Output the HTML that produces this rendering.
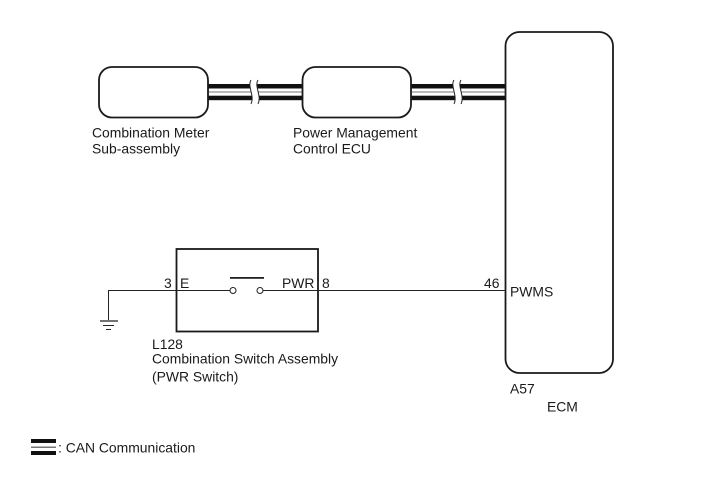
<!DOCTYPE html>
<html><head><meta charset="utf-8"><style>
html,body{margin:0;padding:0;background:#fff}
svg{display:block}
text{font-family:"Liberation Sans",sans-serif;font-size:13.9px;fill:#1a1a1a}
</style></head><body>
<svg width="713" height="481" viewBox="0 0 713 481" xmlns="http://www.w3.org/2000/svg">
<g fill="#111">
<rect x="208" y="84" width="94" height="4.5"/>
<rect x="208" y="95.700" width="94" height="4.500"/>
<rect x="411" y="84" width="95" height="4.500"/>
<rect x="411" y="95.700" width="95" height="4.500"/>
</g>
<g stroke="#777" stroke-width="1" fill="none">
<path d="M208 92H302M411 92H506"/>
</g>
<g fill="#fff" stroke="none">
<path d="M251 80C247 86 255 96 251 104H258C262 96 254 86 258 80Z"/>
<path d="M454 80C450 86 458 96 454 104H461C465 96 457 86 461 80Z"/>
</g>
<g fill="none" stroke="#222" stroke-width="1">
<path d="M251 80C247 86 255 96 251 104M258 80C254 86 262 96 258 104"/>
<path d="M454 80C450 86 458 96 454 104M461 80C457 86 465 96 461 104"/>
</g>
<g fill="none" stroke="#1a1a1a" stroke-width="1.800">
<rect x="99" y="67" width="109" height="50.500" rx="13"/>
<rect x="302.500" y="67" width="108.500" height="50.500" rx="13"/>
<rect x="505.500" y="32" width="107.500" height="341" rx="14"/>
<rect x="176.500" y="249" width="141.500" height="82.500"/>
</g>
<g fill="none" stroke="#222" stroke-width="1">
<path d="M108.500 320V290.500H230M263 290.500H505.500"/>
<circle cx="233" cy="290.500" r="3"/>
<circle cx="260" cy="290.500" r="3"/>
</g>
<rect x="230" y="277" width="34" height="1.800" fill="#222"/>
<g stroke="#222" fill="none">
<path d="M100 321H118" stroke-width="1.300"/>
<path d="M103 325.500H114" stroke-width="1"/>
<path d="M106 329.500H111" stroke-width="1"/>
</g>
<g fill="#111">
<rect x="31" y="439" width="25" height="4"/>
<rect x="31" y="451" width="25" height="4"/>
</g>
<rect x="31" y="446.500" width="25" height="1.500" fill="#777"/>
<text x="92" y="137.500">Combination Meter</text>
<text x="92" y="153.500">Sub-assembly</text>
<text x="293" y="137.500">Power Management</text>
<text x="293" y="153.500">Control ECU</text>
<text x="164" y="288">3</text>
<text x="180" y="288">E</text>
<text x="282" y="288">PWR</text>
<text x="322" y="288">8</text>
<text x="484" y="288">46</text>
<text x="510" y="296.500">PWMS</text>
<text x="152" y="349">L128</text>
<text x="152" y="363.500">Combination Switch Assembly</text>
<text x="152" y="381.500">(PWR Switch)</text>
<text x="510" y="393.500">A57</text>
<text x="547" y="411.500">ECM</text>
<text x="58" y="452.500">: CAN Communication</text>
</svg>
</body></html>
